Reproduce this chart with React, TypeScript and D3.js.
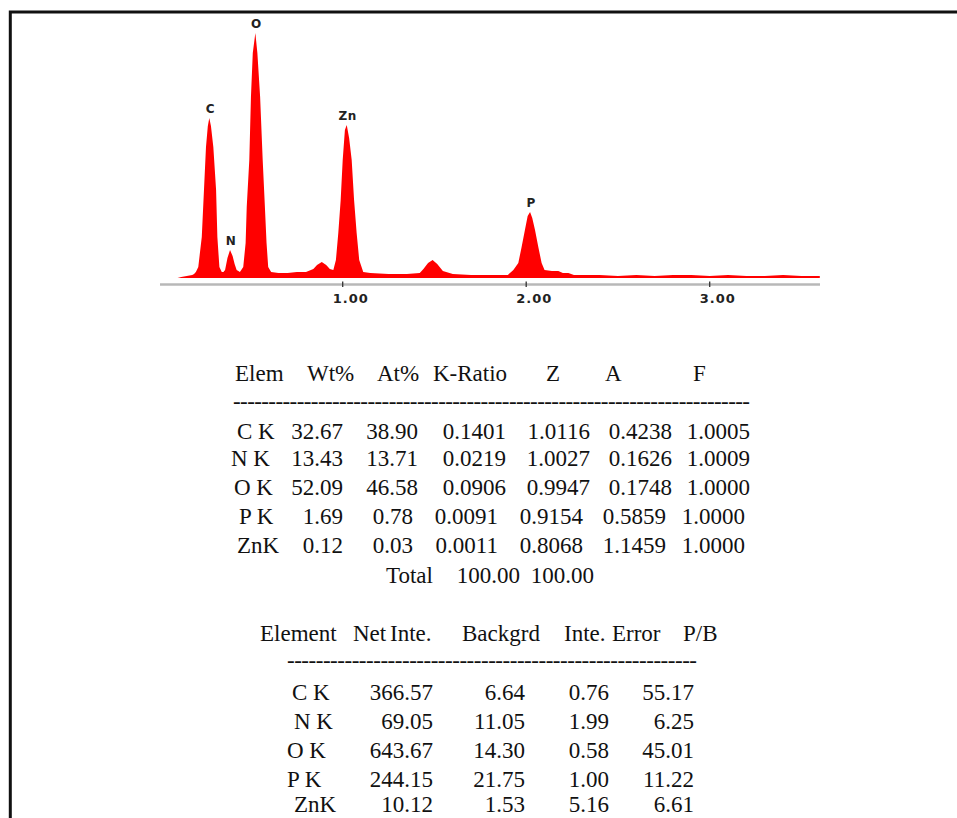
import React from "react";
import * as d3 from "d3";

// EDS spectrum: [keV, counts]
const spectrum: [number, number][] = [
  [0.1, 0], [0.12, 1], [0.15, 2], [0.18, 3], [0.19, 4], [0.2, 6],
  [0.213, 11], [0.232, 41], [0.244, 88], [0.255, 131], [0.265, 152], [0.273, 160],
  [0.282, 152], [0.295, 131], [0.31, 88], [0.317, 41], [0.328, 11], [0.341, 6],
  [0.35, 6], [0.359, 8], [0.372, 20], [0.386, 28], [0.4, 22], [0.411, 14],
  [0.422, 8], [0.44, 6], [0.458, 11], [0.471, 35], [0.477, 71], [0.491, 118],
  [0.5, 181], [0.51, 225], [0.524, 245], [0.535, 225], [0.55, 181], [0.564, 118],
  [0.576, 71], [0.585, 35], [0.594, 11], [0.61, 6], [0.65, 5], [0.7, 5],
  [0.75, 6], [0.8, 6], [0.84, 9], [0.86, 13], [0.886, 16], [0.91, 13],
  [0.93, 9], [0.949, 8], [0.963, 18], [0.976, 45], [0.989, 78], [1.0, 118],
  [1.012, 148], [1.022, 153], [1.035, 140], [1.049, 118], [1.062, 78], [1.076, 45],
  [1.09, 18], [1.112, 6], [1.15, 5], [1.25, 4], [1.35, 4], [1.42, 5],
  [1.44, 9], [1.465, 15], [1.49, 18], [1.515, 14], [1.546, 7], [1.6, 4],
  [1.7, 3], [1.8, 3], [1.9, 3], [1.93, 8], [1.957, 15], [1.975, 31],
  [1.993, 48], [2.008, 62], [2.021, 66], [2.033, 60], [2.048, 48], [2.066, 31],
  [2.084, 15], [2.1, 8], [2.14, 7], [2.175, 7], [2.2, 5], [2.23, 5],
  [2.26, 3], [2.4, 3], [2.5, 2], [2.6, 3], [2.7, 2], [2.8, 3],
  [2.9, 3], [3.0, 2], [3.1, 3], [3.2, 2], [3.3, 2], [3.4, 3],
  [3.5, 2], [3.6, 2],
];
// peak markers: [label, keV, counts at top]
const peaks: [string, number, number][] = [
  ["C", 0.273, 160], ["N", 0.386, 28], ["O", 0.524, 245], ["Zn", 1.022, 153], ["P", 2.021, 66],
];
const energyTicks = [1, 2, 3];

// quantification table
const quantHeader = ["Elem", "Wt%", "At%", "K-Ratio", "Z", "A", "F"];
const elems = ["C K", "N K", "O K", "P K", "ZnK"];
const wtPct = ["32.67", "13.43", "52.09", "1.69", "0.12"];
const atPct = ["38.90", "13.71", "46.58", "0.78", "0.03"];
const kRatio = ["0.1401", "0.0219", "0.0906", "0.0091", "0.0011"];
const zFactor = ["1.0116", "1.0027", "0.9947", "0.9154", "0.8068"];
const aFactor = ["0.4238", "0.1626", "0.1748", "0.5859", "1.1459"];
const fFactor = ["1.0005", "1.0009", "1.0000", "1.0000", "1.0000"];
const totals = ["Total", "100.00", "100.00"];

// intensity table
const intHeader = ["Element", "Net", "Inte.", "Backgrd", "Inte.", "Error", "P/B"];
const netInte = ["366.57", "69.05", "643.67", "244.15", "10.12"];
const backgrd = ["6.64", "11.05", "14.30", "21.75", "1.53"];
const inteError = ["0.76", "1.99", "0.58", "1.00", "5.16"];
const pbRatio = ["55.17", "6.25", "45.01", "11.22", "6.61"];

const W = 957;
const H = 818;
const SERIF = "'Liberation Serif', 'Times New Roman', serif";
const SANS = "'DejaVu Sans', Verdana, sans-serif";

const App = () => {
  const svgRef = React.useRef<SVGSVGElement>(null);

  React.useEffect(() => {
    const svg = d3.select(svgRef.current);
    svg.selectAll("*").remove();

    // frame (left + top only)
    svg.append("path")
      .attr("d", `M10.3,${H} V12 H${W}`)
      .attr("fill", "none")
      .attr("stroke", "#111")
      .attr("stroke-width", 3);

    // -- spectrum --
    const x = d3.scaleLinear().domain([0, 3.6]).range([159.2, 819.8]);
    const y = d3.scaleLinear().domain([0, 250]).range([278, 28]);

    const area = d3.area<[number, number]>()
      .x((d) => x(d[0]))
      .y0(y(0))
      .y1((d) => y(d[1]));
    svg.append("path").datum(spectrum).attr("d", area).attr("fill", "#ff0000");

    // axis
    const ax = svg.append("g").attr("transform", "translate(0, 284.5)");
    ax.append("line")
      .attr("x1", 160).attr("x2", 820)
      .attr("stroke", "#b8b8b8").attr("stroke-width", 2.5);
    ax.selectAll("line.tick")
      .data(energyTicks)
      .enter()
      .append("line")
      .attr("class", "tick")
      .attr("x1", (d) => x(d)).attr("x2", (d) => x(d))
      .attr("y1", -3).attr("y2", 2.5)
      .attr("stroke", "#333").attr("stroke-width", 1.3);
    ax.selectAll("text")
      .data(energyTicks)
      .enter()
      .append("text")
      .attr("x", (d) => x(d) + 8)
      .attr("y", 18)
      .attr("text-anchor", "middle")
      .attr("font-family", SANS)
      .attr("font-weight", "bold")
      .attr("font-size", 13)
      .attr("letter-spacing", 1)
      .attr("fill", "#222")
      .text((d) => d3.format(".2f")(d));

    // peak labels
    svg.selectAll("text.peak")
      .data(peaks)
      .enter()
      .append("text")
      .attr("class", "peak")
      .attr("x", (d) => x(d[1]) + 1)
      .attr("y", (d) => y(d[2]) - 5)
      .attr("text-anchor", "middle")
      .attr("font-family", SANS)
      .attr("font-weight", "bold")
      .attr("font-size", 12)
      .attr("letter-spacing", 0.5)
      .attr("fill", "#222")
      .text((d) => d[0]);

    // -- tables --
    const txt = (s: string, px: number, py: number, anchor = "start", len?: number) => {
      const t = svg.append("text")
        .attr("x", px).attr("y", py)
        .attr("text-anchor", anchor)
        .attr("font-family", SERIF)
        .attr("font-size", 23)
        .attr("fill", "#111")
        .text(s);
      if (len) t.attr("textLength", len).attr("lengthAdjust", "spacing");
      return t;
    };

    // table 1
    const h1 = [235, 307, 377, 433, 546, 605, 693];
    quantHeader.forEach((s, i) => txt(s, h1[i], 381));
    txt("-".repeat(73), 233, 409, "start", 517);
    const rows1 = [439, 466, 495, 524, 553];
    const left1 = [237, 231, 234, 239, 237];
    const rightA = [343, 418, 506, 590, 672, 750];
    const rightB = [343, 413, 498, 583, 666, 745];
    const cols1 = [wtPct, atPct, kRatio, zFactor, aFactor, fFactor];
    elems.forEach((el, r) => {
      txt(el, left1[r], rows1[r]);
      const rights = r < 3 ? rightA : rightB;
      cols1.forEach((col, c) => txt(col[r], rights[c], rows1[r], "end"));
    });
    txt(totals[0], 386, 583);
    txt(totals[1], 520, 583, "end");
    txt(totals[2], 594, 583, "end");

    // table 2
    const h2 = [260, 353, 390, 462, 564, 612, 683];
    intHeader.forEach((s, i) => txt(s, h2[i], 641));
    txt("-".repeat(57), 287, 668, "start", 410);
    const rows2 = [700, 729, 758, 787, 812];
    const left2 = [292, 294, 287, 287, 294];
    const right2 = [433, 525, 609, 694];
    const cols2 = [netInte, backgrd, inteError, pbRatio];
    elems.forEach((el, r) => {
      txt(el, left2[r], rows2[r]);
      cols2.forEach((col, c) => txt(col[r], right2[c], rows2[r], "end"));
    });
  }, []);

  return (
    <svg
      ref={svgRef}
      width={W}
      height={H}
      style={{ position: "absolute", left: 0, top: 0, background: "#fff" }}
    />
  );
};

export default App;
